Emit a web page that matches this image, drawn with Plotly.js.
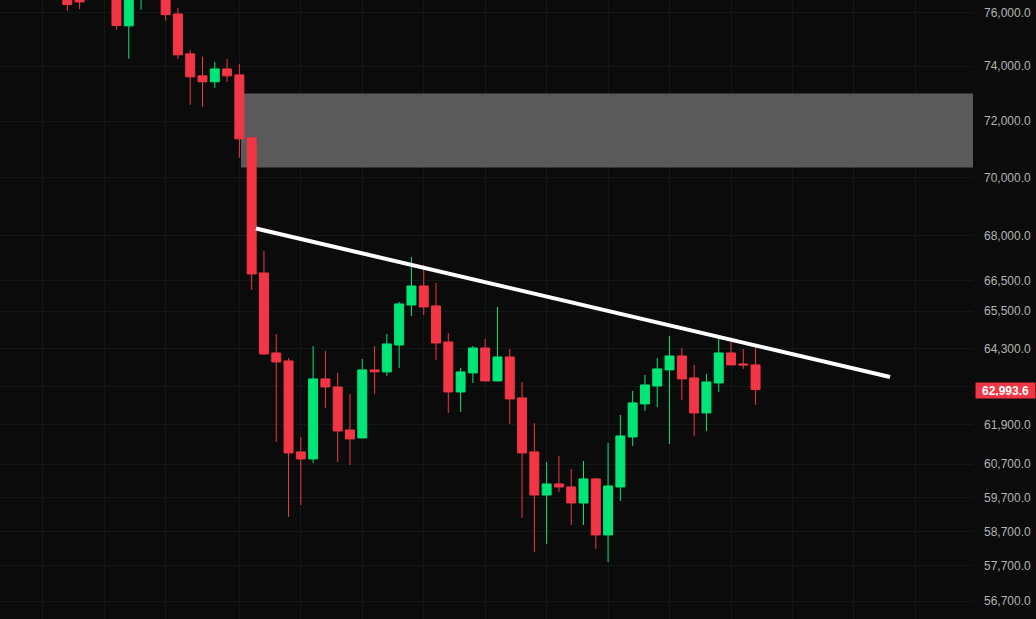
<!DOCTYPE html>
<html><head><meta charset="utf-8">
<script src="https://cdn.plot.ly/plotly-3.0.1.min.js"></script>
<style>html,body{margin:0;padding:0;background:#0b0b0b;overflow:hidden}</style>
</head><body><div id="chart" style="width:1036px;height:619px"></div>
<script>
// Daily candles (oldest first). First few are mostly above the visible window.
const openP  = [77000,76900,76800,77200,76900,75496,76700,77300,76900,75944,74452,73640,73422,73895,73676,71403,66758,64151,63898,61068,60855,63328,63075,61739,61495,63613,63550,64407,65703,66326,65671,64504,62919,63518,64310,63265,64025,62732,61068,59772,60102,60012,59535,60253,58596,60012,61525,62545,63106,63613,64056,63360,62265,63201,64152,63803,63771];
const highP  = [77300,77100,77400,77500,77100,76900,77500,77600,77100,76171,74601,74340,74153,74265,74078,71420,67494,64762,63993,61525,64374,64215,63518,62857,63961,64374,64762,65802,67294,67026,66425,64795,63676,64374,64601,65638,64278,63233,61953,60764,60947,60553,60794,60283,61342,62202,62950,63455,63993,64698,64310,63771,63486,64698,64504,64278,64407];
const lowP   = [76060,76130,76600,76700,75358,74265,76105,76800,75694,74265,72586,72513,73204,73422,70696,66195,64088,61373,59124,59476,60733,62420,60764,60673,61480,62857,63423,63676,65345,65377,63930,62265,62296,63201,63250,63250,61922,59094,58103,58335,59862,58888,58888,58190,57813,59594,61251,62327,62452,61312,62670,61556,61708,62919,63760,63645,62514];
const closeP = [76300,76400,77200,76900,75508,76700,77300,77000,75918,74414,73604,73422,73895,73640,71367,66724,64120,63866,61038,60855,63328,63075,61708,61464,63613,63550,64439,65736,66326,65638,64471,62919,63550,64310,63265,64025,62701,61038,59772,60102,60012,59535,60253,58596,60042,61556,62576,63138,63645,64056,63328,62265,63233,64152,63771,63771,62993.6];

const priceTicks = [76000,74000,72000,70000,68000,66500,65500,64300,63100,61900,60700,59700,58700,57700,56700];
// the 63,100.0 label sits under the last-price badge, so it is left blank
const priceTickLabels = ["76,000.0","74,000.0","72,000.0","70,000.0","68,000.0","66,500.0","65,500.0","64,300.0","","61,900.0","60,700.0","59,700.0","58,700.0","57,700.0","56,700.0"];
const lastPriceLabel = "62,993.6";

// Supply zone (grey box) and descending trend line
const zoneStart = 14.13;
const zoneBottom = 70353;
const zoneTop = 73000;
const trendX = [15.35, 66.94];
const trendY = [68254, 63388];

const xIdx = openP.map((_, i) => i);
const xRange = [-5.476, 73.69];
const lastPrice = closeP[closeP.length - 1];

const candle = {
  type: 'candlestick',
  x: xIdx, open: openP, high: highP, low: lowP, close: closeP,
  increasing: {line: {color: '#00e676', width: 1}, fillcolor: '#00e676'},
  decreasing: {line: {color: '#f23645', width: 1}, fillcolor: '#f23645'},
  whiskerwidth: 0,
  hoverinfo: 'skip'
};
const trend = {
  type: 'scatter', mode: 'lines', x: trendX, y: trendY,
  line: {color: '#ffffff', width: 4}, hoverinfo: 'skip'
};

const gridC = '#111815';
const layout = {
  width: 1036, height: 619,
  margin: {l: 0, r: 63, t: 0, b: 0, pad: 0},
  paper_bgcolor: '#0b0b0b', plot_bgcolor: '#0b0b0b',
  showlegend: false,
  boxgap: 0.27, boxgroupgap: 0,
  xaxis: {
    range: xRange, rangeslider: {visible: false}, showticklabels: false,
    tickmode: 'array', tickvals: [-2,3,8,14,19,24,29,34,39,44,49,54,59,64,69],
    showgrid: true, gridcolor: gridC, gridwidth: 1, zeroline: false, showline: false, ticks: ''
  },
  yaxis: {
    type: 'log', side: 'right', range: [4.749692, 4.883516],
    tickmode: 'array', tickvals: priceTicks, ticktext: priceTickLabels,
    showgrid: true, gridcolor: gridC, gridwidth: 1, zeroline: false, showline: false, ticks: '',
    ticklabelstandoff: 10,
    tickfont: {family: 'Liberation Sans, Arial, sans-serif', size: 12, color: '#b4b4b4'}
  },
  shapes: [{
    type: 'rect', layer: 'between', xref: 'x', yref: 'y',
    x0: zoneStart, x1: xRange[1], y0: zoneBottom, y1: zoneTop,
    fillcolor: '#5a5a5a', line: {width: 0}
  }],
  annotations: [{
    xref: 'paper', x: 1, xanchor: 'left', xshift: 2,
    yref: 'y', y: Math.log10(lastPrice), yanchor: 'middle', yshift: -1,
    text: '<b>' + lastPriceLabel + '</b>', showarrow: false,
    bgcolor: '#f23645', borderpad: 2, width: 55, height: 11, align: 'center',
    font: {family: 'Liberation Sans, Arial, sans-serif', size: 12, color: '#ffffff'}
  }]
};

Plotly.newPlot('chart', [candle, trend], layout, {staticPlot: true, displayModeBar: false});
</script>
</body></html>
